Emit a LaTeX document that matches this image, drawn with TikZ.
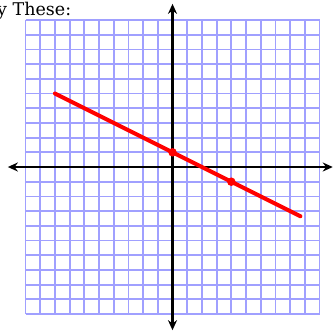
\documentclass[tikz,border=0pt]{standalone}
\usepackage{fontspec}
\setmainfont{DejaVu Serif}
\usetikzlibrary{arrows.meta}
\definecolor{gridblue}{RGB}{160,160,255}
\definecolor{linered}{RGB}{255,0,0}
\tikzset{
  gridline/.style={draw=gridblue, line width=1.8pt},
  axisline/.style={draw=black, line width=2.8pt, {Stealth[length=10pt,width=9pt]}-{Stealth[length=10pt,width=9pt]}},
  redline/.style={draw=linered, line width=4pt, line cap=round},
  reddot/.style={circle, fill=linered, inner sep=0pt, minimum size=8.5pt},
  titletext/.style={font=\fontsize{17.5}{20}\selectfont, anchor=base west, inner sep=0pt}
}
\begin{document}
\begin{tikzpicture}[x=14.7pt,y=14.7pt]
\useasboundingbox (-11.735,-11.224) rectangle (10.918,11.361);
\fill[white] (-11.735,-11.224) rectangle (10.918,11.361);
\draw[gridline, step=1] (-10,-10) grid (10,10);
\draw[axisline] (-11.2,0) -- (10.9,0);
\draw[axisline] (0,-11.1) -- (0,11.1);
\coordinate (A) at (-8,5);
\coordinate (B) at (8.7,-3.35);
\draw[redline] (A) -- (B);
\node[reddot] (P) at (0,1) {};
\node[reddot] (Q) at (4,-1) {};
\node[titletext] (T) at (-11.94,10.34) {y These:};
\end{tikzpicture}
\end{document}
